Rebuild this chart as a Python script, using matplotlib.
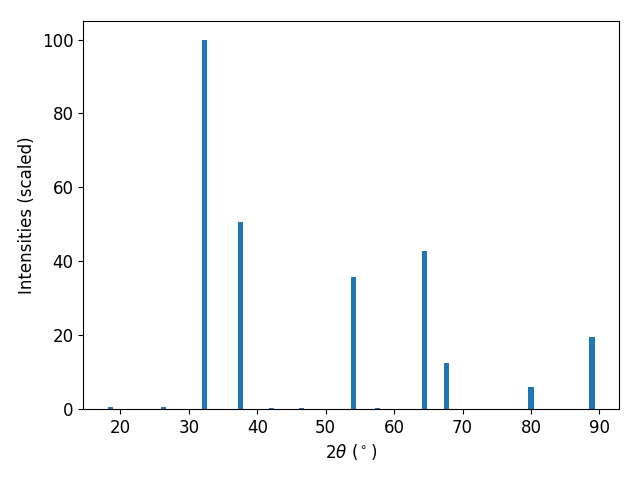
import matplotlib.pyplot as plt
import numpy as np

plt.rc('font', size=12)

# peak positions (2theta, degrees) and scaled intensities
two_theta = [18.5, 26.3, 32.35, 37.5, 42.1, 46.4, 54.05, 57.6, 64.4, 67.6, 80.0, 88.9]
intensity = [0.6, 0.5, 100.0, 50.6, 0.3, 0.3, 35.8, 0.3, 42.8, 12.5, 6.0, 19.5]

fig, ax = plt.subplots(figsize=(6.4, 4.8), dpi=100)
ax.bar(two_theta, intensity, width=0.75)

ax.set_xlabel(r'2$\theta$ ($^\circ$)')
ax.set_ylabel('Intensities (scaled)')

fig.subplots_adjust(left=0.13, right=0.967, top=0.956, bottom=0.148)
plt.savefig('out.png')
